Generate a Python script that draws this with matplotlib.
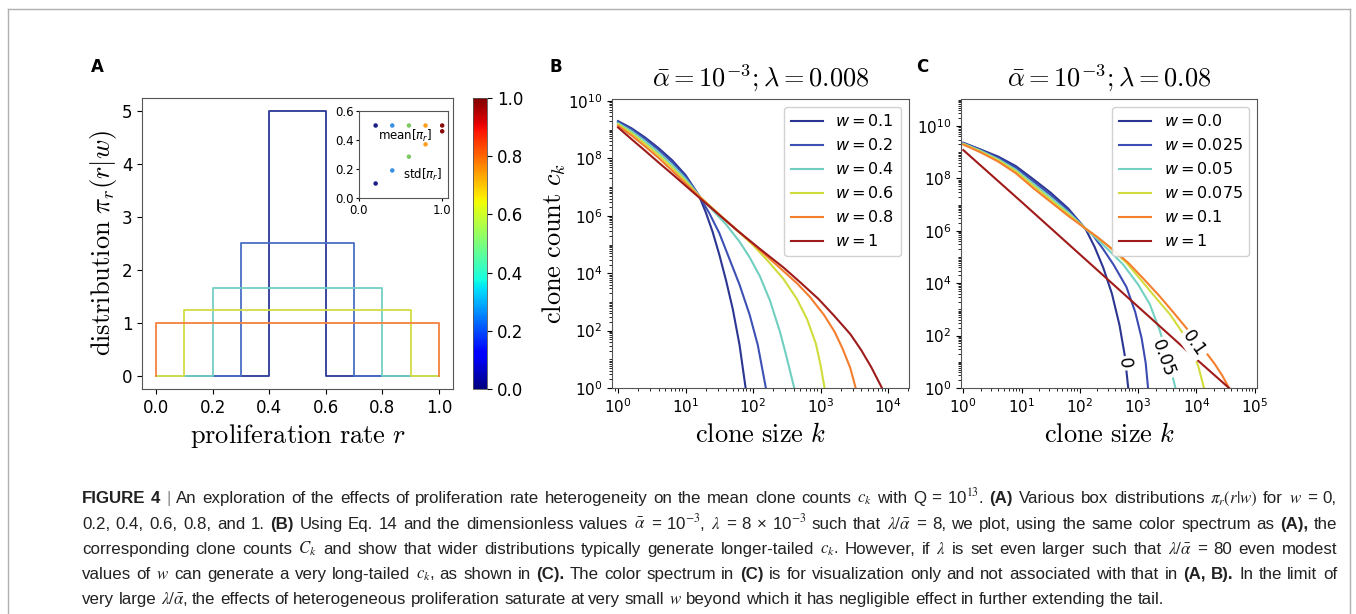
import numpy as np
import matplotlib
matplotlib.use("Agg")
import matplotlib.pyplot as plt
from matplotlib.lines import Line2D
from matplotlib.ticker import LogLocator, NullFormatter, FormatStrFormatter

W_PX, H_PX, DPI = 1356, 614, 100

# ---- panel A: box distributions pi_r(r|w) ----
A_w = [0.2, 0.4, 0.6, 0.8, 1.0]
A_lo = [0.4, 0.3, 0.2, 0.1, 0.0]
A_hi = [0.6, 0.7, 0.8, 0.9, 1.0]
A_height = [5.0, 2.5, 1.667, 1.25, 1.0]
A_colors = ["#2b3896", "#4a6fc4", "#72cfc4", "#d4dc44", "#f3823e"]

# inset: mean and std of pi_r
INS_w = [0.2, 0.4, 0.6, 0.8, 1.0]
INS_mean = [0.5, 0.5, 0.5, 0.5, 0.5]
INS_std = [0.10, 0.19, 0.285, 0.37, 0.46]
INS_colors = ["#1b1f84", "#3a8fe0", "#7fc962", "#ff9d1e", "#8b0a0a"]

# ---- panel B: clone counts (log10 k, log10 c_k), lambda = 0.008 ----
B_labels = ["0.1", "0.2", "0.4", "0.6", "0.8", "1"]
B_colors = ["#2b3592", "#3d50b4", "#70cfc0", "#d0dc3a", "#f57d2e", "#9e1b1b"]
B_logk = [
    [0, 0.2, 0.4, 0.6, 0.8, 1.0, 1.2, 1.3, 1.4, 1.5, 1.6, 1.7, 1.8, 1.89],
    [0, 0.2, 0.4, 0.6, 0.8, 1.0, 1.2, 1.35, 1.5, 1.65, 1.8, 1.95, 2.07, 2.19],
    [0, 0.2, 0.4, 0.6, 0.8, 1.0, 1.2, 1.4, 1.6, 1.8, 1.95, 2.1, 2.25, 2.4, 2.5, 2.61],
    [0, 0.2, 0.4, 0.6, 0.8, 1.0, 1.2, 1.5, 1.75, 2.0, 2.23, 2.45, 2.65, 2.8, 2.93, 3.0, 3.06],
    [0, 0.2, 0.4, 0.6, 0.8, 1.0, 1.2, 1.5, 2.0, 2.4, 2.65, 2.84, 3.05, 3.21, 3.33, 3.44, 3.52],
    [0, 0.2, 0.4, 0.6, 0.8, 1.0, 1.2, 1.5, 1.76, 2.1, 2.45, 2.7, 2.97, 3.2, 3.44, 3.6, 3.75, 3.91],
]
B_logc = [
    [9.30, 9.05, 8.73, 8.36, 7.94, 7.42, 6.70, 6.12, 5.45, 4.65, 3.75, 2.75, 1.5, 0.0],
    [9.27, 9.01, 8.68, 8.30, 7.87, 7.37, 6.70, 6.1, 5.4, 4.5, 3.6, 2.55, 1.5, 0.0],
    [9.23, 8.95, 8.6, 8.21, 7.78, 7.29, 6.70, 6.2, 5.7, 5.1, 4.55, 3.9, 3.05, 1.95, 1.05, 0.0],
    [9.19, 8.88, 8.51, 8.12, 7.68, 7.21, 6.69, 6.05, 5.52, 4.98, 4.4, 3.8, 3.1, 2.4, 1.55, 0.8, 0.0],
    [9.14, 8.8, 8.42, 8.02, 7.58, 7.13, 6.68, 6.04, 5.02, 4.18, 3.65, 3.18, 2.55, 1.95, 1.35, 0.7, 0.0],
    [9.08, 8.67, 8.27, 7.86, 7.46, 7.05, 6.64, 6.03, 5.5, 4.85, 4.2, 3.68, 3.1, 2.52, 1.88, 1.33, 0.73, 0.0],
]

# ---- panel C: lambda = 0.08 ----
C_labels = ["0.0", "0.025", "0.05", "0.075", "0.1", "1"]
C_colors = ["#2b3592", "#3d4cb2", "#74d2c2", "#d2dc3c", "#f67f2e", "#a01a1a"]
C_logk = [
    [0, 0.3, 0.6, 0.9, 1.2, 1.5, 1.8, 2.1, 2.25, 2.4, 2.55, 2.68, 2.77, 2.83],
    [0, 0.3, 0.6, 0.9, 1.2, 1.5, 1.8, 2.1, 2.2, 2.4, 2.58, 2.8, 2.95, 3.06, 3.13, 3.17],
    [0, 0.3, 0.6, 0.9, 1.2, 1.5, 1.8, 2.1, 2.3, 2.5, 2.74, 3.0, 3.2, 3.37, 3.52, 3.64],
    [0, 0.3, 0.6, 0.9, 1.2, 1.5, 1.8, 2.1, 2.3, 2.5, 2.8, 3.05, 3.29, 3.55, 3.75, 3.92, 4.03, 4.13],
    [0, 0.3, 0.6, 0.9, 1.2, 1.5, 1.8, 2.1, 2.3, 2.5, 2.83, 3.1, 3.37, 3.6, 3.86, 4.1, 4.32, 4.45, 4.56],
    [0, 1, 2, 3, 4, 4.56],
]
C_logc = [
    [9.36, 9.1, 8.83, 8.47, 7.97, 7.45, 6.85, 6.06, 5.4, 4.6, 3.6, 2.4, 1.25, 0.0],
    [9.35, 9.08, 8.78, 8.4, 7.88, 7.36, 6.78, 6.07, 5.9, 5.3, 4.7, 3.85, 2.9, 1.9, 0.95, 0.0],
    [9.33, 9.05, 8.73, 8.33, 7.8, 7.27, 6.71, 6.07, 5.68, 5.25, 4.72, 3.95, 3.2, 2.2, 1.1, 0.0],
    [9.31, 9.02, 8.69, 8.27, 7.72, 7.18, 6.64, 6.08, 5.75, 5.4, 4.78, 4.12, 3.48, 2.8, 2.15, 1.45, 0.85, 0.0],
    [9.29, 8.99, 8.64, 8.2, 7.63, 7.1, 6.57, 6.08, 5.76, 5.4, 4.78, 4.15, 3.5, 2.9, 2.2, 1.55, 0.9, 0.45, 0.0],
    [9.08, 7.1, 5.1, 3.1, 1.1, 0.0],
]
# inline labels on panel C (text, log10 k, log10 c, rotation)
C_inline = [("0", 2.77, 0.94, -85), ("0.05", 3.43, 1.12, -70), ("0.1", 3.96, 1.69, -55)]

CAPTION = [
    r"*FIGURE *4 | An exploration of the effects of proliferation rate heterogeneity on the mean clone counts $c_k$ with Q = 10$^{13}$. *(A) Various box distributions $\pi_r(r|w)$ for $w$ = 0,",
    r"0.2, 0.4, 0.6, 0.8, and 1. *(B) Using Eq. 14 and the dimensionless values $\bar{\alpha}$ = 10$^{-3}$, $\lambda$ = 8 × 10$^{-3}$ such that $\lambda/\bar{\alpha}$ = 8, we plot, using the same color spectrum as *(A), the",
    r"corresponding clone counts $C_k$ and show that wider distributions typically generate longer-tailed $c_k$. However, if $\lambda$ is set even larger such that $\lambda/\bar{\alpha}$ = 80 even modest",
    r"values of $w$ can generate a very long-tailed $c_k$, as shown in *(C). The color spectrum in *(C) is for visualization only and not associated with that in *(A, *B). In the limit of",
    r"very large $\lambda/\bar{\alpha}$, the effects of heterogeneous proliferation saturate at very small $w$ beyond which it has negligible effect in further extending the tail.",
]
CAP_BASELINES = [503, 529, 554, 579, 604]
CAP_X0, CAP_X1 = 82, 1337
CAP_FONT = ["Liberation Sans Narrow", "Liberation Sans", "DejaVu Sans"]
CAP_SIZE = 12.2


def px_axes(l, t, r, b):
    return [l / W_PX, 1 - b / H_PX, (r - l) / W_PX, (b - t) / H_PX]


fig = plt.figure(figsize=(W_PX / DPI, H_PX / DPI), dpi=DPI)

# thin grey frame round the figure block
for xs, ys in [([8, 8], [9, 620]), ([8, 1350], [9, 9]), ([1350, 1350], [9, 620])]:
    fig.add_artist(Line2D([x / W_PX for x in xs], [1 - y / H_PX for y in ys],
                          color="#b0b0b0", lw=1.0, transform=fig.transFigure))

# ---------------- A ----------------
axA = fig.add_axes(px_axes(142, 98, 453, 389))
for lo, hi, h, c in zip(A_lo, A_hi, A_height, A_colors):
    axA.plot([0, lo, lo, hi, hi, 1], [0, 0, h, h, 0, 0], color=c, lw=1.3)
axA.set_xlim(-0.05, 1.05)
axA.set_ylim(-0.25, 5.25)
axA.set_xticks([0, 0.2, 0.4, 0.6, 0.8, 1.0])
axA.set_yticks([0, 1, 2, 3, 4, 5])
axA.tick_params(labelsize=12)
axA.set_xlabel(r"$\mathrm{proliferation\ rate}\ r$", fontsize=19, math_fontfamily="cm", labelpad=4)
axA.set_ylabel(r"$\mathrm{distribution}\ \pi_r(r|w)$", fontsize=19, math_fontfamily="cm", labelpad=2)

cax = fig.add_axes(px_axes(473, 98, 487, 389))
sm = plt.cm.ScalarMappable(cmap="jet", norm=plt.Normalize(0, 1))
cb = fig.colorbar(sm, cax=cax, ticks=[0, 0.2, 0.4, 0.6, 0.8, 1.0])
cb.ax.tick_params(labelsize=12)
cb.outline.set_linewidth(0.6)

axI = fig.add_axes(px_axes(359, 111, 448, 198))
axI.scatter(INS_w, INS_mean, c=INS_colors, s=5, zorder=3)
axI.scatter(INS_w, INS_std, c=INS_colors, s=5, zorder=3)
axI.set_xlim(0, 1.07)
axI.set_ylim(0, 0.6)
axI.set_xticks([0, 1.0])
axI.set_yticks([0, 0.2, 0.4, 0.6])
axI.xaxis.set_major_formatter(FormatStrFormatter("%.1f"))
axI.yaxis.set_major_formatter(FormatStrFormatter("%.1f"))
axI.tick_params(labelsize=8.5, length=2.5, pad=1.5)
axI.text(0.56, 0.43, r"mean[$\pi_r$]", fontsize=8.5, ha="center", va="center")
axI.text(0.76, 0.16, r"std[$\pi_r$]", fontsize=8.5, ha="center", va="center")


def log_panel(ax, logk, logc, colors, labels, title, xmax_dec):
    for lk, lc, c, lab in zip(logk, logc, colors, labels):
        ax.plot(10 ** np.array(lk), 10 ** np.array(lc), color=c, lw=1.5, label=rf"$w = {lab}$")
    ax.set_xscale("log")
    ax.set_yscale("log")
    ax.set_xticks([10.0 ** i for i in range(xmax_dec + 1)])
    ax.set_yticks([10.0 ** i for i in range(0, 11, 2)])
    ax.xaxis.set_minor_locator(LogLocator(subs=np.arange(1, 10), numticks=100))
    ax.yaxis.set_minor_locator(LogLocator(subs=np.arange(1, 10), numticks=100))
    ax.xaxis.set_minor_formatter(NullFormatter())
    ax.yaxis.set_minor_formatter(NullFormatter())
    ax.tick_params(labelsize=11)
    ax.tick_params(which="minor", length=2)
    ax.set_title(title, fontsize=19, math_fontfamily="cm", pad=9)
    ax.set_xlabel(r"$\mathrm{clone\ size}\ k$", fontsize=19, math_fontfamily="cm", labelpad=4)
    ax.legend(loc="upper right", fontsize=11.5, framealpha=0.9)


# ---------------- B ----------------
axB = fig.add_axes(px_axes(612, 99, 909, 388))
log_panel(axB, B_logk, B_logc, B_colors, B_labels,
          r"$\bar{\alpha} = 10^{-3}; \lambda = 0.008$", 4)
axB.set_xlim(10 ** -0.089, 10 ** 4.31)
axB.set_ylim(1, 10 ** 10.07)
axB.set_ylabel(r"$\mathrm{clone\ count}\ c_k$", fontsize=19, math_fontfamily="cm", labelpad=0)

# ---------------- C ----------------
axC = fig.add_axes(px_axes(961, 99, 1257, 388))
log_panel(axC, C_logk, C_logc, C_colors, C_labels,
          r"$\bar{\alpha} = 10^{-3}; \lambda = 0.08$", 5)
axC.set_xlim(10 ** -0.04, 10 ** 5.04)
axC.set_ylim(1, 10 ** 11.03)
for s, lk, lc, rot in C_inline:
    axC.text(10 ** lk, 10 ** lc, s, fontsize=12.5, rotation=rot, ha="center", va="center",
             rotation_mode="anchor", zorder=5,
             bbox=dict(boxstyle="square,pad=0.1", fc="white", ec="none"))

for ax in (axA, axB, axC, axI, cax):
    for sp in ax.spines.values():
        sp.set_color("#555555")

# panel letters
for lab, x in [("A", 97), ("B", 556), ("C", 922)]:
    fig.text(x / W_PX, 1 - 67 / H_PX, lab, fontsize=12, weight="bold", ha="center", va="center")

# ---------------- caption (justified word by word) ----------------
renderer = fig.canvas.get_renderer()
for li, (line, base) in enumerate(zip(CAPTION, CAP_BASELINES)):
    words = line.split(" ")
    texts = []
    for wd in words:
        bold = wd.startswith("*")
        wd = wd.lstrip("*")
        color = "#8c8c8c" if wd == "|" else "#222222"
        t = fig.text(0, 1 - base / H_PX, wd, fontsize=CAP_SIZE, family=CAP_FONT,
                     weight="bold" if bold else "normal", color=color,
                     math_fontfamily="stix", va="baseline", ha="left")
        texts.append(t)
    widths = [t.get_window_extent(renderer).width for t in texts]
    if li < len(CAPTION) - 1:
        gap = (CAP_X1 - CAP_X0 - sum(widths)) / (len(words) - 1)
    else:
        gap = CAP_SIZE * DPI / 72 * 0.26
    x = CAP_X0
    for t, wdt in zip(texts, widths):
        t.set_x(x / W_PX)
        x += wdt + gap

fig.savefig("out.png", dpi=DPI)
